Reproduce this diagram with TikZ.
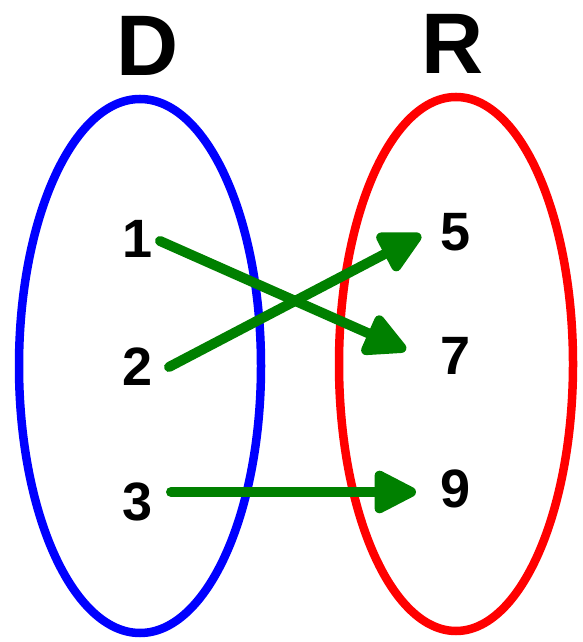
\documentclass[tikz,border=0pt]{standalone}
\usepackage{fontspec}
\setmainfont{Liberation Sans}
\usetikzlibrary{arrows.meta}
\definecolor{setblue}{RGB}{0,0,255}
\definecolor{setred}{RGB}{255,0,0}
\definecolor{mapgreen}{RGB}{0,128,0}
\tikzset{
  setline/.style={line width=8.5pt},
  title/.style={font=\fontsize{86}{86}\selectfont\bfseries},
  elem/.style={font=\fontsize{54}{54}\selectfont\bfseries, inner sep=0pt},
  maparrow/.style={draw=mapgreen, line width=10pt, line cap=round,
    -{Triangle[length=48pt,width=46pt,round]}}
}
\begin{document}
\begin{tikzpicture}[x=1pt,y=1pt]
\useasboundingbox (0,0) rectangle (583,642);
% sets
\draw[setline, setblue] (140,276) ellipse [x radius=121, y radius=267];
\draw[setline, setred] (456,278) ellipse [x radius=117, y radius=267];
% titles
\node[title] (D) at (148,596) {D};
\node[title] (R) at (453,598) {R};
% elements
\node[elem] (n1) at (138,403) {1};
\node[elem] (n2) at (138,275) {2};
\node[elem] (n3) at (138,140) {3};
\node[elem] (n5) at (456,410) {5};
\node[elem] (n7) at (456,286) {7};
\node[elem] (n9) at (456,153) {9};
% arrow anchors
\coordinate (s1) at (160,401);
\coordinate (e1) at (406,292);
\coordinate (s2) at (169,275);
\coordinate (e2) at (421,407);
\coordinate (s3) at (171,150);
\coordinate (e3) at (416,150);
\draw[maparrow] (s1) -- (e1);
\draw[maparrow] (s2) -- (e2);
\draw[maparrow] (s3) -- (e3);
\end{tikzpicture}
\end{document}
